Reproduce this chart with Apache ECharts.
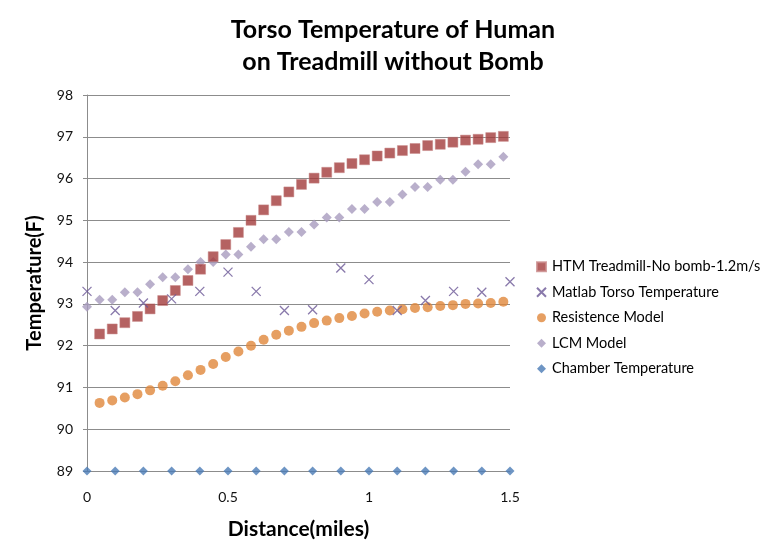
<!DOCTYPE html>
<html>
<head>
<meta charset="utf-8">
<script src="https://cdn.jsdelivr.net/npm/echarts@6/dist/echarts.min.js"></script>
<style>
  html, body { margin: 0; padding: 0; background: #fff; }
  #chart { width: 760px; height: 551px; }
</style>
</head>
<body>
<div id="chart"></div>
<script>
// Distance (miles) for the one-minute model samples
const modelDistance = [0, 0.0447, 0.0895, 0.1342, 0.179, 0.2237, 0.2684, 0.3132, 0.3579, 0.4027,
  0.4474, 0.4921, 0.5369, 0.5816, 0.6264, 0.6711, 0.7158, 0.7606, 0.8053, 0.8501,
  0.8948, 0.9395, 0.9843, 1.029, 1.0738, 1.1185, 1.1632, 1.208, 1.2527, 1.2975,
  1.3422, 1.3869, 1.4317, 1.4764];
// Distance (miles) for the Matlab and chamber samples
const coarseDistance = [0, 0.1, 0.2, 0.3, 0.4, 0.5, 0.6, 0.7, 0.8, 0.9, 1.0, 1.1, 1.2, 1.3, 1.4, 1.5];

// HTM treadmill run (starts at the first minute)
const htmTemp = [92.28, 92.40, 92.55, 92.70, 92.88, 93.08, 93.32, 93.56, 93.83, 94.13,
  94.42, 94.71, 95.00, 95.25, 95.47, 95.68, 95.86, 96.01, 96.15, 96.26,
  96.36, 96.45, 96.54, 96.61, 96.67, 96.72, 96.79, 96.82, 96.87, 96.92,
  96.94, 96.98, 97.01];
const matlabTemp = [93.30, 92.84, 93.02, 93.12, 93.30, 93.76, 93.30, 92.84, 92.86, 93.86,
  93.58, 92.84, 93.08, 93.30, 93.28, 93.53];
// Resistance model (starts at the first minute)
const resistTemp = [90.63, 90.69, 90.76, 90.84, 90.93, 91.04, 91.15, 91.29, 91.42, 91.56,
  91.73, 91.86, 92.00, 92.14, 92.26, 92.36, 92.45, 92.54, 92.60, 92.66,
  92.71, 92.77, 92.81, 92.84, 92.87, 92.90, 92.92, 92.95, 92.97, 93.00,
  93.01, 93.02, 93.05];
// LCM model (starts at distance 0)
const lcmTemp = [92.93, 93.10, 93.10, 93.28, 93.28, 93.47, 93.64, 93.64, 93.83, 94.00,
  94.00, 94.18, 94.18, 94.37, 94.55, 94.55, 94.72, 94.72, 94.90, 95.07,
  95.07, 95.27, 95.27, 95.44, 95.44, 95.62, 95.80, 95.80, 95.97, 95.97,
  96.16, 96.34, 96.34, 96.52];
const chamberTemp = [89, 89, 89, 89, 89, 89, 89, 89, 89, 89, 89, 89, 89, 89, 89, 89];

const seriesNames = ['HTM Treadmill-No bomb-1.2m/s', 'Matlab Torso Temperature',
  'Resistence Model', 'LCM Model', 'Chamber Temperature'];
const yTicks = { min: 89, max: 98, step: 1 };
const xTicks = { min: 0, max: 1.5, step: 0.5 };

function pairs(xs, ys, offset) {
  return ys.map((y, i) => [xs[i + offset], y]);
}

const FONT = 'Lato, "Liberation Sans", sans-serif';
const crossPath = 'path://M0,0L10,10M10,0L0,10';

const chart = echarts.init(document.getElementById('chart'), null, { renderer: 'canvas' });
chart.setOption({
  animation: false,
  backgroundColor: '#ffffff',
  title: {
    text: 'Torso Temperature of Human\non Treadmill without Bomb',
    left: 388,
    top: 9,
    textAlign: 'center',
    textStyle: { fontFamily: FONT, fontSize: 25, fontWeight: 'bold', color: '#000', lineHeight: 32 }
  },
  grid: { left: 87, top: 95, width: 423, height: 376, containLabel: false },
  legend: {
    orient: 'vertical',
    left: 531,
    top: 253,
    itemGap: 8,
    itemWidth: 9,
    itemHeight: 9,
    textStyle: { fontFamily: FONT, fontSize: 14.5, color: '#000', lineHeight: 17.5, padding: [0, 0, 0, 1] },
    data: seriesNames
  },
  xAxis: {
    type: 'value',
    min: xTicks.min, max: xTicks.max, interval: xTicks.step,
    name: 'Distance(miles)',
    nameLocation: 'middle',
    nameGap: 48,
    nameTextStyle: { fontFamily: FONT, fontSize: 21, fontWeight: 'bold', color: '#000' },
    axisLine: { show: true, onZero: false, lineStyle: { color: '#8c8c8c', width: 1 } },
    axisTick: { show: false },
    axisLabel: { margin: 19, fontFamily: FONT, fontSize: 14, color: '#111',
      formatter: v => String(+v.toFixed(1)) },
    splitLine: { show: false }
  },
  yAxis: {
    type: 'value',
    min: yTicks.min, max: yTicks.max, interval: yTicks.step,
    name: 'Temperature(F)',
    nameLocation: 'middle',
    nameGap: 42,
    nameTextStyle: { fontFamily: FONT, fontSize: 20, fontWeight: 'bold', color: '#000' },
    axisLine: { show: true, lineStyle: { color: '#8c8c8c', width: 1 } },
    axisTick: { show: true, length: 4, lineStyle: { color: '#8c8c8c' } },
    axisLabel: { margin: 14, fontFamily: FONT, fontSize: 14, color: '#111' },
    splitLine: { show: true, lineStyle: { color: '#8c8c8c', width: 1 } }
  },
  series: [
    {
      name: seriesNames[0], type: 'scatter', symbol: 'rect', symbolSize: 10,
      itemStyle: { color: '#A33B3B', borderColor: '#c98a89', borderWidth: 0.6 },
      data: pairs(modelDistance, htmTemp, 1), z: 3
    },
    {
      name: seriesNames[1], type: 'scatter', symbol: crossPath, symbolSize: 9,
      itemStyle: { color: 'rgba(0,0,0,0)', borderColor: '#6B5896', borderWidth: 1.3 },
      data: pairs(coarseDistance, matlabTemp, 0), z: 4
    },
    {
      name: seriesNames[2], type: 'scatter', symbol: 'circle', symbolSize: 10,
      itemStyle: { color: '#E0873B' },
      data: pairs(modelDistance, resistTemp, 1), z: 3
    },
    {
      name: seriesNames[3], type: 'scatter', symbol: 'diamond', symbolSize: 10,
      itemStyle: { color: '#A89BBE' },
      data: pairs(modelDistance, lcmTemp, 0), z: 2
    },
    {
      name: seriesNames[4], type: 'scatter', symbol: 'diamond', symbolSize: 9,
      itemStyle: { color: '#4A7AB5' },
      data: pairs(coarseDistance, chamberTemp, 0), z: 5, clip: false
    }
  ]
});
</script>
</body>
</html>
